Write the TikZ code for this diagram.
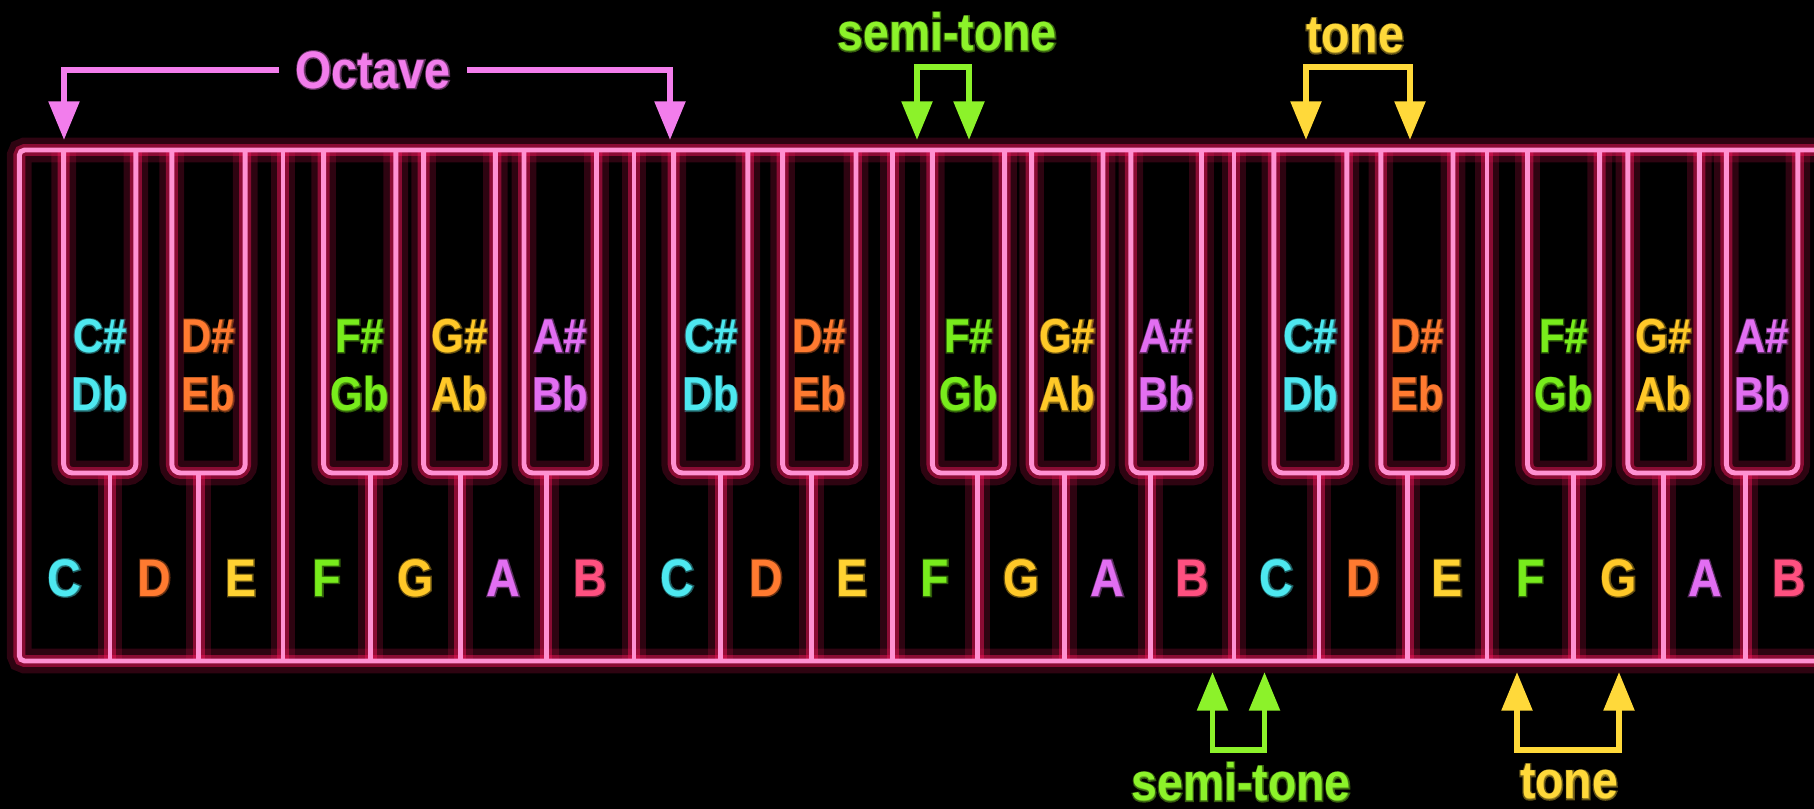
\documentclass[tikz,border=0pt]{standalone}
\usepackage{fontspec}
\newfontfamily\keyfont{Liberation Sans}[FakeStretch=0.88]
\newfontfamily\haloFont{Liberation Sans}[FakeStretch=0.88, FakeBold=5]
\usetikzlibrary{arrows.meta}

\definecolor{glowred}{RGB}{230,20,85}
\definecolor{neonpink}{RGB}{255,145,210}
\definecolor{ccyan}{RGB}{77,232,240}
\definecolor{corange}{RGB}{255,122,48}
\definecolor{cyellow}{RGB}{255,210,50}
\definecolor{cgreen}{RGB}{120,236,28}
\definecolor{cgold}{RGB}{255,200,40}
\definecolor{cviolet}{RGB}{226,110,242}
\definecolor{cred}{RGB}{255,80,128}
\definecolor{coct}{RGB}{242,125,236}
\definecolor{csemi}{RGB}{140,242,42}
\definecolor{ctone}{RGB}{255,217,58}

\tikzstyle{glowwide}=[draw=glowred, line width=7pt, opacity=0.2]
\tikzstyle{glowthin}=[draw=glowred, line width=3.4pt, opacity=0.5]
\tikzstyle{neon}=[draw=neonpink, line width=1.4pt]
\tikzstyle{wlab}=[font=\keyfont\bfseries\fontsize{15}{18}\selectfont]
\tikzstyle{whalo}=[font=\haloFont\bfseries\fontsize{15}{18}\selectfont, opacity=0.38]
\tikzstyle{blab}=[font=\keyfont\bfseries\fontsize{13.5}{16}\selectfont]
\tikzstyle{bhalo}=[font=\haloFont\bfseries\fontsize{13.5}{16}\selectfont, opacity=0.38]
\tikzstyle{bigtext}=[font=\keyfont\bfseries\fontsize{15}{18}\selectfont, inner sep=4.5pt]
\tikzstyle{bighalo}=[font=\haloFont\bfseries\fontsize{15}{18}\selectfont, opacity=0.38]
\tikzstyle{bracket}=[line width=1.7pt, {Triangle[length=11pt,width=8.5pt]}-{Triangle[length=11pt,width=8.5pt]}]
\tikzstyle{octarrow}=[draw=coct, line width=1.7pt, -{Triangle[length=11pt,width=8.5pt]}]

\begin{document}
\begin{tikzpicture}[x=0.01cm,y=-0.01cm]
\fill[black] (0,0) rectangle (1814,809);
\useasboundingbox (0,0) rectangle (1814,809);
\clip (0,0) rectangle (1814,809);

% keyboard: glow first, then the lines
\foreach \layer in {glowwide,glowthin,neon}{
  \draw[\layer,rounded corners=1.5pt] (19.3,150) rectangle (1860,661);
  \foreach \x in {283,634,892.6,1234,1487}
    \draw[\layer] (\x,150) -- (\x,661);
  \foreach \x in {110,198.8,370.7,460.2,546.3,720.8,811.6,977.6,1064.5,1150.5,1319,1407.8,1573.9,1663.8,1745.7}
    \draw[\layer] (\x,473) -- (\x,661);
  \foreach \l/\r in {63.7/135.9,171.8/245.2,323.6/395.8,423.6/495.4,524/596.5,
                     673.7/747.9,782.6/856,932.4/1004.6,1031.6/1103,1130.9/1201.5,
                     1273.9/1346.8,1380.8/1453,1527.5/1599.7,1627.9/1699.4,1726.4/1797.8}
    \draw[\layer,rounded corners=2.5pt] (\l,150) -- (\l,473) -- (\r,473) -- (\r,150);
}

% white keys
\foreach \l/\r/\n/\c [count=\i] in {19.3/110/C/ccyan,110/198.8/D/corange,198.8/283/E/cyellow,
    283/370.7/F/cgreen,370.7/460.2/G/cgold,460.2/546.3/A/cviolet,546.3/634/B/cred,
    634/720.8/C/ccyan,720.8/811.6/D/corange,811.6/892.6/E/cyellow,892.6/977.6/F/cgreen,
    977.6/1064.5/G/cgold,1064.5/1150.5/A/cviolet,1150.5/1234/B/cred,
    1234/1319/C/ccyan,1319/1407.8/D/corange,1407.8/1487/E/cyellow,1487/1573.9/F/cgreen,
    1573.9/1663.8/G/cgold,1663.8/1745.7/A/cviolet,1745.7/1832/B/cred}
{
  \node[whalo,text=\c] (wh\i) at ({(\l+\r)/2},578) {\n};
  \node[wlab,text=\c] (w\i) at ({(\l+\r)/2},578) {\n};
}

% black keys
\foreach \l/\r/\up/\dn/\c [count=\i] in {63.7/135.9/C\#/Db/ccyan,171.8/245.2/D\#/Eb/corange,
    323.6/395.8/F\#/Gb/cgreen,423.6/495.4/G\#/Ab/cgold,524/596.5/A\#/Bb/cviolet,
    673.7/747.9/C\#/Db/ccyan,782.6/856/D\#/Eb/corange,932.4/1004.6/F\#/Gb/cgreen,
    1031.6/1103/G\#/Ab/cgold,1130.9/1201.5/A\#/Bb/cviolet,
    1273.9/1346.8/C\#/Db/ccyan,1380.8/1453/D\#/Eb/corange,1527.5/1599.7/F\#/Gb/cgreen,
    1627.9/1699.4/G\#/Ab/cgold,1726.4/1797.8/A\#/Bb/cviolet}
{
  \node[bhalo,text=\c] (sh\i) at ({(\l+\r)/2},336) {\up};
  \node[bhalo,text=\c] (fh\i) at ({(\l+\r)/2},394) {\dn};
  \node[blab,text=\c] (s\i) at ({(\l+\r)/2},336) {\up};
  \node[blab,text=\c] (f\i) at ({(\l+\r)/2},394) {\dn};
}

% octave
\node[bighalo,text=coct] (octh) at (373,70) {Octave};
\node[bigtext,text=coct] (oct) at (373,70) {Octave};
\coordinate (octL) at (64,140);
\coordinate (octR) at (670,140);
\draw[octarrow] (oct.west) -| (octL);
\draw[octarrow] (oct.east) -| (octR);

% semi-tone and tone, above
\node[bighalo,text=csemi] (semiuph) at (947,32) {semi-tone};
\node[bigtext,text=csemi] (semiup) at (947,32) {semi-tone};
\coordinate (semiupA) at (917,140);
\coordinate (semiupB) at (969,140);
\coordinate (semiupBar) at (943,67);
\draw[bracket,draw=csemi] (semiupA) |- (semiupBar) -| (semiupB);

\node[bighalo,text=ctone] (toneuph) at (1355,36) {tone};
\node[bigtext,text=ctone] (toneup) at (1355,36) {tone};
\coordinate (toneupA) at (1306,140);
\coordinate (toneupB) at (1410,140);
\coordinate (toneupBar) at (1358,67);
\draw[bracket,draw=ctone] (toneupA) |- (toneupBar) -| (toneupB);

% semi-tone and tone, below
\node[bighalo,text=csemi] (semidnh) at (1241,782) {semi-tone};
\node[bigtext,text=csemi] (semidn) at (1241,782) {semi-tone};
\coordinate (semidnA) at (1212.5,672);
\coordinate (semidnB) at (1264.5,672);
\coordinate (semidnBar) at (1238,750);
\draw[bracket,draw=csemi] (semidnA) |- (semidnBar) -| (semidnB);

\node[bighalo,text=ctone] (tonednh) at (1569,782) {tone};
\node[bigtext,text=ctone] (tonedn) at (1569,782) {tone};
\coordinate (tonednA) at (1517,672);
\coordinate (tonednB) at (1619,672);
\coordinate (tonednBar) at (1568,750);
\draw[bracket,draw=ctone] (tonednA) |- (tonednBar) -| (tonednB);
\end{tikzpicture}
\end{document}
